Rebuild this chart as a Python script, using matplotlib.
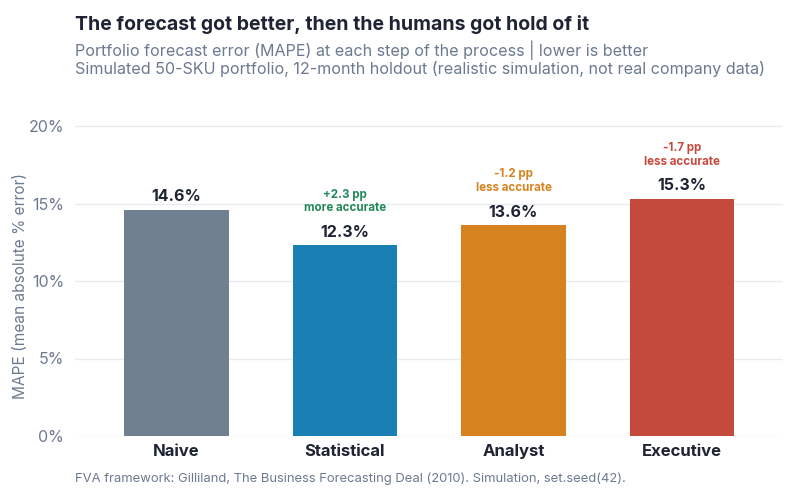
import matplotlib
matplotlib.use("Agg")
import matplotlib.pyplot as plt
from matplotlib.ticker import FuncFormatter

categories = ["Naive", "Statistical", "Analyst", "Executive"]
mape = [14.6, 12.3, 13.6, 15.3]
deltas = [None, "+2.3 pp\nmore accurate", "-1.2 pp\nless accurate", "-1.7 pp\nless accurate"]
bar_colors = ["#708090", "#1A7FB3", "#D6831F", "#C54A3E"]
delta_colors = [None, "#23895A", "#D6831F", "#C54A3E"]
yticks = [0, 5, 10, 15, 20]

plt.rcParams['font.family'] = ['Inter', 'DejaVu Sans']

fig = plt.figure(figsize=(8, 5), dpi=100)
fig.patch.set_facecolor("white")
ax = fig.add_axes([0.094, 0.128, 0.885, 0.651])

x = list(range(1, len(categories) + 1))
ax.bar(x, mape, width=0.62, color=bar_colors, zorder=2)
ax.set_xlim(0.4, 4.6)
ax.set_ylim(0, 21)
ax.set_yticks(yticks)
ax.yaxis.set_major_formatter(FuncFormatter(lambda v, p: f"{v:.0f}%"))
ax.set_xticks(x)
ax.set_xticklabels(categories, fontsize=12, fontweight="bold", color="#1E2433")
ax.tick_params(axis="y", labelsize=11.5, labelcolor="#6B7A90", length=0, pad=8)
ax.tick_params(axis="x", length=0, pad=6)
ax.grid(axis="y", color="#E8ECF1", linewidth=1.0, zorder=0)
ax.set_axisbelow(True)
for s in ax.spines.values():
    s.set_visible(False)

fig.text(0.026, 0.428, "MAPE (mean absolute % error)", fontsize=11.1, color="#6B7A90",
         rotation=90, ha="center", va="center")

for xi, v, d, dc in zip(x, mape, deltas, delta_colors):
    ax.text(xi, v + 0.35, f"{v:.1f}%", ha="center", va="bottom", fontsize=11.5,
            fontweight="bold", color="#1E2433", zorder=3)
    if d:
        ax.text(xi, v + 2.0, d, ha="center", va="bottom", fontsize=8.3, fontweight="bold",
                color=dc, linespacing=1.2, zorder=3)

fig.text(0.094, 0.95, "The forecast got better, then the humans got hold of it",
         fontsize=14, fontweight="bold", color="#1E2433", ha="left", va="center")
fig.text(0.094, 0.9, "Portfolio forecast error (MAPE) at each step of the process | lower is better",
         fontsize=11.6, color="#6B7A90", ha="left", va="center")
fig.text(0.094, 0.862, "Simulated 50-SKU portfolio, 12-month holdout (realistic simulation, not real company data)",
         fontsize=11.6, color="#6B7A90", ha="left", va="center")
fig.text(0.094, 0.042, "FVA framework: Gilliland, The Business Forecasting Deal (2010). Simulation, set.seed(42).",
         fontsize=9.4, color="#6B7A90", ha="left", va="center")

fig.savefig("out.png", dpi=100, facecolor="white")
